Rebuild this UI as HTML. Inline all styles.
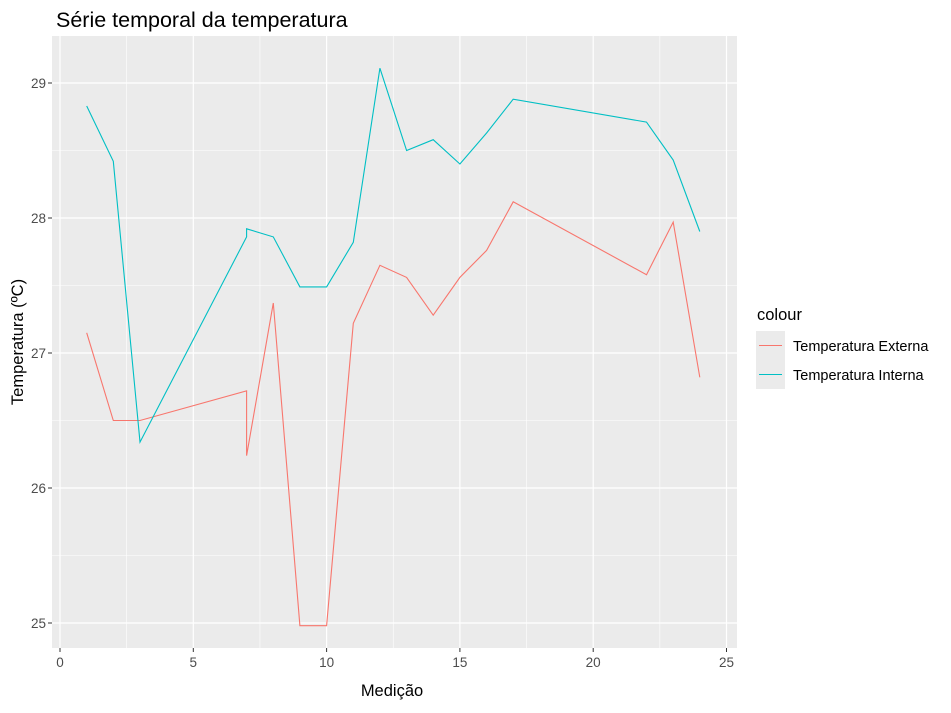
<!DOCTYPE html>
<html><head><meta charset="utf-8"><style>
body{margin:0;background:#fff;font-family:"Liberation Sans",Arial,sans-serif}
</style></head><body>
<svg width="951" height="708" xmlns="http://www.w3.org/2000/svg" font-family="Liberation Sans, Arial, sans-serif">
<text x="56" y="27" font-size="21.5" fill="#000">Série temporal da temperatura</text>
<rect x="52" y="36" width="685" height="612" fill="#EBEBEB"/>
<g id="grid"></g>
<g id="lines"></g>
<g id="axes"></g>
<text x="392" y="696" font-size="16.5" text-anchor="middle">Medição</text>
<text transform="translate(23,342) rotate(-90)" font-size="16.5" text-anchor="middle">Temperatura (ºC)</text>
<g>
<text x="757" y="320" font-size="16.5">colour</text>
<rect x="756" y="331" width="29" height="29" fill="#EBEBEB"/>
<line x1="759" y1="345.5" x2="782" y2="345.5" stroke="#F8766D" stroke-width="1"/>
<text x="793" y="351" font-size="14.5" fill="#000">Temperatura Externa</text>
<rect x="756" y="360" width="29" height="29" fill="#EBEBEB"/>
<line x1="759" y1="374.5" x2="782" y2="374.5" stroke="#00BFC4" stroke-width="1"/>
<text x="793" y="380" font-size="14.5" fill="#000">Temperatura Interna</text>
</g>
</svg>
<script>
const xVals=[1,2,3,7,7,8,9,10,11,12,13,14,15,16,17,22,23,24];
const interna=[28.83,28.42,26.34,27.86,27.92,27.86,27.49,27.49,27.82,29.11,28.50,28.58,28.40,28.63,28.88,28.71,28.43,27.90];
const externa=[27.15,26.50,26.50,26.72,26.24,27.37,24.98,24.98,27.22,27.65,27.56,27.28,27.56,27.76,28.12,27.58,27.97,26.82];
const xTicks=[0,5,10,15,20,25];
const yTicks=[25,26,27,28,29];
const NS="http://www.w3.org/2000/svg";
const X=v=>60+26.66*v, Y=v=>623-(v-25)*135;
const L=52,R=737,T=36,B=648;
function mk(t,a,p){const e=document.createElementNS(NS,t);for(const k in a)e.setAttribute(k,a[k]);p.appendChild(e);return e;}
const g=document.getElementById('grid'),ax=document.getElementById('axes'),ln=document.getElementById('lines');
for(let i=0;i<xTicks.length-1;i++){const m=(xTicks[i]+xTicks[i+1])/2;const e=mk('line',{x1:X(m),x2:X(m),y1:T,y2:B,stroke:'#fff','stroke-width':0.6},g);

}
for(let i=0;i<yTicks.length-1;i++){const m=(yTicks[i]+yTicks[i+1])/2;const e=mk('line',{x1:L,x2:R,y1:Y(m),y2:Y(m),stroke:'#fff','stroke-width':0.6},g);

}
xTicks.forEach(t=>{const e=mk('line',{x1:X(t),x2:X(t),y1:T,y2:B,stroke:'#fff','stroke-width':1.2},g);


const k=mk('line',{x1:X(t),x2:X(t),y1:B,y2:B+4,stroke:'#333','stroke-width':1},ax);


const s=mk('text',{x:X(t),y:B+19,'font-size':13.5,fill:'#4D4D4D','text-anchor':'middle'},ax);s.textContent=t;

});
yTicks.forEach(t=>{const e=mk('line',{x1:L,x2:R,y1:Y(t),y2:Y(t),stroke:'#fff','stroke-width':1.2},g);


const k=mk('line',{x1:L-4,x2:L,y1:Y(t),y2:Y(t),stroke:'#333','stroke-width':1},ax);


const s=mk('text',{x:L-6,y:Y(t)+5,'font-size':13.5,fill:'#4D4D4D','text-anchor':'end'},ax);s.textContent=t;

});
function series(vals,color,name){const d=xVals.map((x,i)=>(i?'L':'M')+X(x).toFixed(1)+','+Y(vals[i]).toFixed(1)).join(' ');
const p=mk('path',{d:d,fill:'none',stroke:color,'stroke-width':1.1},ln);

}
series(externa,'#F8766D','line-temperatura-externa');
series(interna,'#00BFC4','line-temperatura-interna');
</script>
</body></html>
